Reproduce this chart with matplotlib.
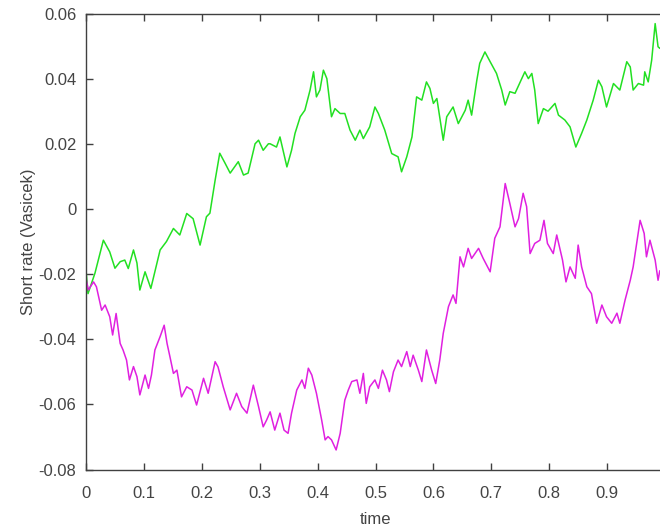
import numpy as np
import matplotlib
matplotlib.use('Agg')
import matplotlib.pyplot as plt

plt.rcParams['font.family'] = ['Liberation Sans', 'DejaVu Sans']

# Two simulated short-rate paths
t_up = [0.000, 0.0035, 0.0155, 0.030, 0.041, 0.050, 0.059, 0.067, 0.073, 0.082,
        0.088, 0.093, 0.102, 0.112, 0.128, 0.139, 0.151, 0.162, 0.174, 0.185,
        0.197, 0.208, 0.214, 0.223, 0.231, 0.240, 0.249, 0.263, 0.272, 0.280,
        0.292, 0.298, 0.306, 0.315, 0.318, 0.329, 0.335, 0.347, 0.355, 0.361,
        0.370, 0.378, 0.387, 0.393, 0.398, 0.404, 0.410, 0.416, 0.424, 0.430,
        0.439, 0.447, 0.456, 0.465, 0.473, 0.479, 0.490, 0.499, 0.505, 0.516,
        0.528, 0.539, 0.545, 0.554, 0.563, 0.571, 0.580, 0.588, 0.594, 0.600,
        0.606, 0.617, 0.623, 0.634, 0.643, 0.655, 0.660, 0.666, 0.675, 0.680,
        0.689, 0.698, 0.709, 0.718, 0.724, 0.732, 0.741, 0.750, 0.758, 0.764,
        0.770, 0.775, 0.781, 0.790, 0.798, 0.810, 0.816, 0.827, 0.836, 0.846,
        0.856, 0.865, 0.876, 0.885, 0.891, 0.899, 0.911, 0.922, 0.934, 0.940,
        0.945, 0.954, 0.963, 0.965, 0.971, 0.977, 0.983, 0.988, 0.991, 1.000]
r_up = [-0.0188, -0.0260, -0.0197, -0.0096, -0.0132, -0.0182, -0.0162, -0.0157, -0.0183, -0.0126,
        -0.0166, -0.0249, -0.0193, -0.0244, -0.0126, -0.0100, -0.0060, -0.0080, -0.0014, -0.0030,
        -0.0111, -0.0024, -0.0013, 0.0088, 0.0171, 0.0141, 0.0110, 0.0145, 0.0104, 0.0110,
        0.0200, 0.0211, 0.0180, 0.0200, 0.0200, 0.0190, 0.0221, 0.0129, 0.0180, 0.0232,
        0.0283, 0.0303, 0.0365, 0.0421, 0.0344, 0.0365, 0.0426, 0.0400, 0.0283, 0.0308,
        0.0293, 0.0293, 0.0242, 0.0211, 0.0242, 0.0216, 0.0252, 0.0313, 0.0293, 0.0242,
        0.0170, 0.0160, 0.0114, 0.0160, 0.0221, 0.0344, 0.0334, 0.0390, 0.0370, 0.0324,
        0.0339, 0.0211, 0.0283, 0.0313, 0.0262, 0.0303, 0.0334, 0.0288, 0.0395, 0.0447,
        0.0482, 0.0452, 0.0416, 0.0365, 0.0319, 0.0360, 0.0355, 0.0390, 0.0421, 0.0400,
        0.0416, 0.0365, 0.0262, 0.0308, 0.0300, 0.0324, 0.0288, 0.0273, 0.0252, 0.0190,
        0.0232, 0.0273, 0.0334, 0.0395, 0.0375, 0.0313, 0.0385, 0.0365, 0.0452, 0.0436,
        0.0365, 0.0385, 0.0380, 0.0421, 0.0390, 0.0457, 0.0569, 0.0498, 0.0493, 0.0510]

t_down = [0.000, 0.004, 0.013, 0.018, 0.027, 0.033, 0.041, 0.046, 0.052, 0.059,
          0.064, 0.070, 0.075, 0.082, 0.088, 0.093, 0.102, 0.108, 0.113, 0.119,
          0.128, 0.135, 0.140, 0.145, 0.151, 0.157, 0.165, 0.174, 0.183, 0.191,
          0.203, 0.211, 0.223, 0.228, 0.237, 0.249, 0.260, 0.269, 0.278, 0.289,
          0.298, 0.306, 0.312, 0.318, 0.326, 0.335, 0.342, 0.349, 0.355, 0.364,
          0.373, 0.378, 0.384, 0.390, 0.398, 0.407, 0.413, 0.418, 0.424, 0.432,
          0.439, 0.447, 0.453, 0.459, 0.468, 0.473, 0.479, 0.484, 0.490, 0.499,
          0.505, 0.512, 0.519, 0.524, 0.531, 0.539, 0.545, 0.554, 0.560, 0.565,
          0.574, 0.580, 0.588, 0.597, 0.604, 0.611, 0.617, 0.626, 0.634, 0.639,
          0.646, 0.652, 0.660, 0.666, 0.678, 0.686, 0.698, 0.706, 0.715, 0.724,
          0.732, 0.741, 0.747, 0.755, 0.761, 0.767, 0.775, 0.784, 0.791, 0.797,
          0.807, 0.813, 0.823, 0.829, 0.836, 0.845, 0.850, 0.856, 0.865, 0.873,
          0.882, 0.891, 0.899, 0.908, 0.917, 0.922, 0.931, 0.940, 0.945, 0.951,
          0.957, 0.964, 0.968, 0.974, 0.983, 0.988, 0.991, 1.000]
r_down = [-0.0213, -0.0249, -0.0224, -0.0239, -0.0311, -0.0295, -0.0331, -0.0387, -0.0321, -0.0413,
          -0.0433, -0.0464, -0.0525, -0.0484, -0.0515, -0.0571, -0.0510, -0.0551, -0.0510, -0.0433,
          -0.0392, -0.0357, -0.0413, -0.0454, -0.0505, -0.0495, -0.0577, -0.0546, -0.0556, -0.0602,
          -0.0520, -0.0566, -0.0469, -0.0485, -0.0546, -0.0617, -0.0566, -0.0607, -0.0627, -0.0541,
          -0.0607, -0.0669, -0.0648, -0.0623, -0.0679, -0.0627, -0.0679, -0.0689, -0.0627, -0.0556,
          -0.0525, -0.0551, -0.0489, -0.0510, -0.0566, -0.0648, -0.0709, -0.0699, -0.0709, -0.0740,
          -0.0689, -0.0587, -0.0556, -0.0530, -0.0525, -0.0566, -0.0505, -0.0597, -0.0546, -0.0525,
          -0.0551, -0.0495, -0.0525, -0.0561, -0.0500, -0.0464, -0.0484, -0.0438, -0.0484, -0.0449,
          -0.0495, -0.0530, -0.0433, -0.0495, -0.0536, -0.0464, -0.0382, -0.0300, -0.0264, -0.0290,
          -0.0147, -0.0178, -0.0121, -0.0152, -0.0121, -0.0152, -0.0193, -0.0090, -0.0055, 0.0078,
          0.0017, -0.0055, -0.0030, 0.0048, 0.0007, -0.0137, -0.0106, -0.0096, -0.0035, -0.0106,
          -0.0137, -0.0080, -0.0157, -0.0224, -0.0178, -0.0213, -0.0111, -0.0178, -0.0239, -0.0260,
          -0.0351, -0.0295, -0.0331, -0.0351, -0.0320, -0.0351, -0.0280, -0.0219, -0.0178, -0.0106,
          -0.0035, -0.0075, -0.0147, -0.0096, -0.0157, -0.0219, -0.0190, -0.0210]

xticks = [0, 0.1, 0.2, 0.3, 0.4, 0.5, 0.6, 0.7, 0.8, 0.9]
xtick_labels = ['0', '0.1', '0.2', '0.3', '0.4', '0.5', '0.6', '0.7', '0.8', '0.9']
yticks = [-0.08, -0.06, -0.04, -0.02, 0, 0.02, 0.04, 0.06]
ytick_labels = ['-0.08', '-0.06', '-0.04', '-0.02', '0', '0.02', '0.04', '0.06']

fig = plt.figure(figsize=(6.6, 5.27), dpi=100)
# axes run slightly past the right edge of the figure
ax = fig.add_axes([86 / 660, 57.5 / 527, 579 / 660, 456 / 527])

ax.plot(t_up, r_up, color='#22e022', lw=1.1)
ax.plot(t_down, r_down, color='#e020e0', lw=1.1)

ax.set_xlim(0, 1)
ax.set_ylim(-0.08, 0.06)
ax.set_xticks(xticks)
ax.set_xticklabels(xtick_labels)
ax.set_yticks(yticks)
ax.set_yticklabels(ytick_labels)

grey = '#404040'
txt = '#444444'
for s in ax.spines.values():
    s.set_color(grey)
    s.set_linewidth(1.0)
ax.tick_params(direction='in', length=5, width=1.0, color=grey,
               labelcolor=txt, labelsize=12, top=True, right=False)
ax.tick_params(axis='x', pad=12)
ax.tick_params(axis='y', pad=7)

ax.set_xlabel('time', fontsize=12, color=txt, labelpad=8)
ax.set_ylabel('Short rate (Vasicek)', fontsize=12, color=txt, labelpad=2)

plt.savefig('out.png', dpi=100)
